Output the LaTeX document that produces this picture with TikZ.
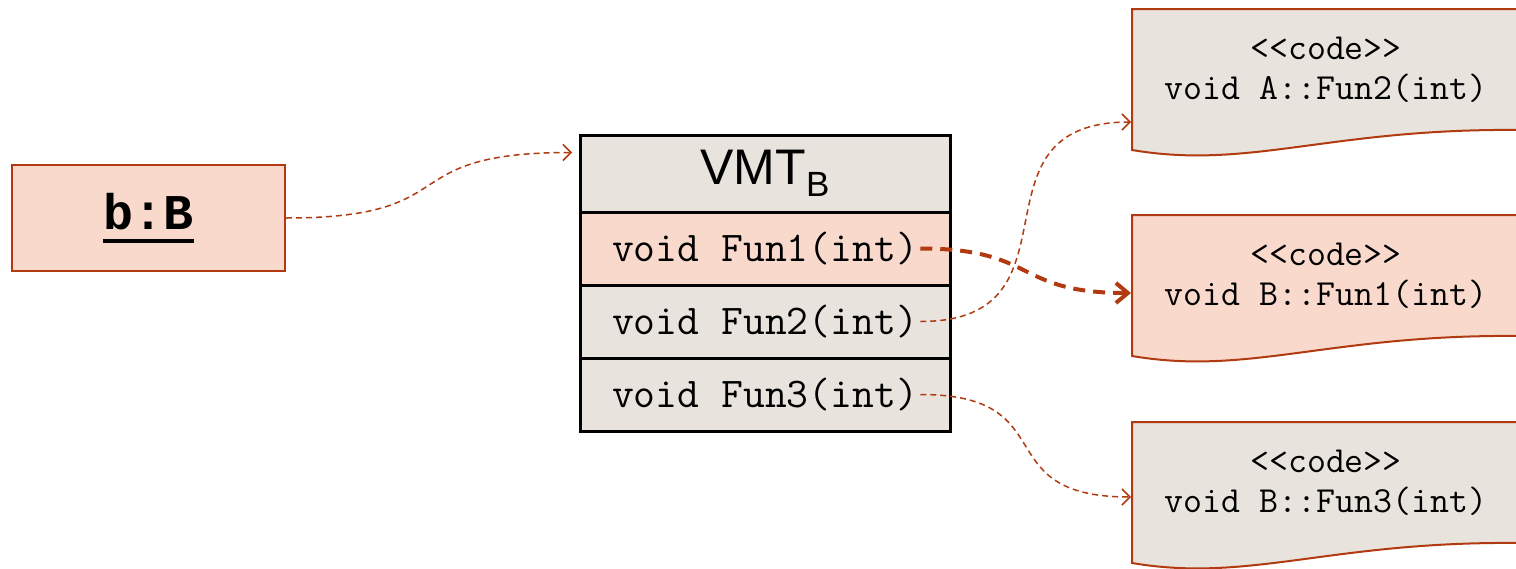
\documentclass[tikz,border=0pt]{standalone}
\usepackage{fontspec}
\setmainfont{Liberation Sans}
\newfontfamily\boldcode{Liberation Mono}
\usetikzlibrary{arrows.meta,calc,positioning}
\definecolor{salmon}{RGB}{249,217,204}
\definecolor{paper}{RGB}{232,228,221}
\definecolor{rust}{RGB}{178,58,16}
\newcommand\thickul[1]{\setbox0\hbox{#1}\rlap{\rule[-7pt]{\wd0}{2pt}}\box0}

\begin{document}
\begin{tikzpicture}[x=0.5pt,y=-0.5pt,
		objbox/.style={draw=rust,line width=1pt,fill=salmon,minimum width=136.5pt,minimum height=53pt,inner sep=0pt},
		vmtrow/.style={draw=black,line width=1.5pt,fill=paper,minimum width=185pt,minimum height=36.5pt,inner sep=0pt,outer sep=0pt},
		entry/.style={font=\ttfamily\fontsize{21.2}{24}\selectfont,inner sep=1pt},
		doc/.style={draw=rust,line width=1pt},
		doctext/.style={font=\ttfamily\fontsize{18.4}{20}\selectfont,align=center},
		ptr/.style={rust,line width=0.75pt,dash pattern=on 3pt off 2pt,-{Straight Barb[length=4pt,width=8pt]}},
		bigptr/.style={rust,line width=2pt,dash pattern=on 6pt off 4pt,-{Straight Barb[length=6pt,width=10pt]}}]
		\useasboundingbox (0,0) rectangle (1516,568);
		\node[objbox,font=\boldcode\bfseries\fontsize{25}{30}\selectfont] (obj) at (148.5,218) {\thickul{b:B}};
		\node[vmtrow,minimum height=38.5pt] (hd) at (765,173.5) {\raisebox{-2pt}{\fontsize{25}{28}\selectfont VMT\raisebox{-6pt}{\fontsize{17.5}{20}\selectfont B}}};
		\node[vmtrow,fill=salmon,below=0pt of hd] (r1) {};
		\node[vmtrow,below=0pt of r1] (r2) {};
		\node[vmtrow,below=0pt of r2] (r3) {};
		\foreach \i in {1,2,3}
			\node[entry] (f\i) at (r\i) {void Fun\i(int)};
		\coordinate (vt) at ($(hd.west)+(-8,-21)$);
		\foreach \n/\y/\c/\t/\a in {1/9/paper/A::Fun2/113, 2/215/salmon/B::Fun1/78, 3/422/paper/B::Fun3/75}{
			\draw[doc,fill=\c] (1132,\y) -- (1520,\y) -- (1520,\y+121) .. controls (1330,\y+119) and (1250,\y+161) .. (1132,\y+141) -- cycle;
			\node[doctext] (d\n) at (1326,\y+61) {<<code>>\\void \t(int)};
			\coordinate (e\n) at (1131,\y+\a);
		}
		\draw[ptr] (obj.east) to[out=0,in=180,looseness=1.6] (vt);
		\draw[bigptr] (f1.east) to[out=0,in=180,looseness=1.4] (e2);
		\draw[ptr] (f2.east) to[out=0,in=180,looseness=1.5] (e1);
		\draw[ptr] (f3.east) to[out=0,in=180,looseness=1.6] (e3);
	\end{tikzpicture}
\end{document}
